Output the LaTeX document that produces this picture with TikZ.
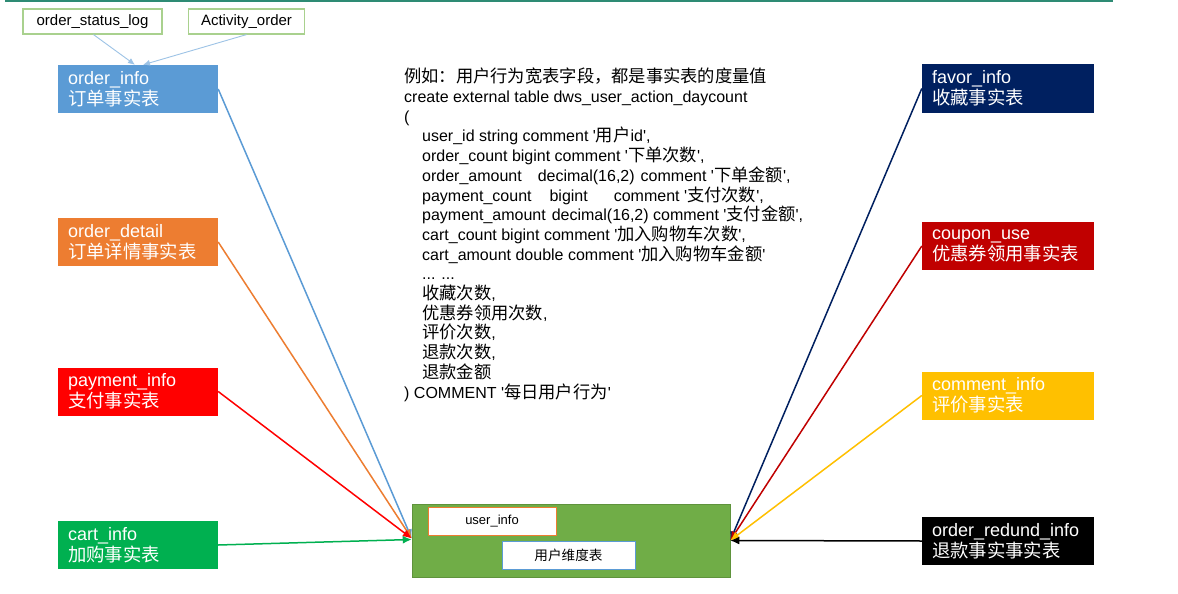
\documentclass[tikz,border=0pt]{standalone}
\usepackage{fontspec}
\newfontfamily\lsans{Liberation Sans}
\newfontfamily\cjk[Scale=1.08]{Noto Sans CJK SC}
\newfontfamily\cjkb[Scale=1.02]{Noto Sans CJK SC}
\usetikzlibrary{arrows.meta,calc}
\definecolor{cOI}{HTML}{5B9BD5}
\definecolor{cOD}{HTML}{ED7D31}
\definecolor{cPI}{HTML}{FF0000}
\definecolor{cCI}{HTML}{00B050}
\definecolor{cFI}{HTML}{002060}
\definecolor{cCU}{HTML}{C00000}
\definecolor{cCM}{HTML}{FFC000}
\definecolor{cRD}{HTML}{000000}
\definecolor{cGB}{HTML}{70AD47}
\definecolor{cTop}{HTML}{2E8B74}
\definecolor{cSrc}{HTML}{A9D18E}
\definecolor{cTA}{HTML}{9DC3E6}
\tikzset{
  fact/.style={inner xsep=10pt, inner ysep=0pt, minimum height=48pt, align=left,
    text=white, font=\lsans\fontsize{18}{21}\selectfont},
  lfact/.style={fact, text width=140pt},
  rfact/.style={fact, text width=152pt},
  srcbox/.style={draw=cSrc, line width=1.2pt, fill=white, inner sep=0pt,
    minimum height=25pt, font=\lsans\fontsize{15}{16}\selectfont},
  conn/.style={line width=1.5pt, -{Latex[length=9pt,width=8pt]}},
  tconn/.style={draw=cTA, line width=0.9pt, -{Latex[length=7pt,width=6pt]}},
  sub/.style={fill=white, inner sep=0pt, minimum height=28pt, line width=1pt}
}
\begin{document}
\begin{tikzpicture}[x=1pt,y=-1pt]
\useasboundingbox (0,0) rectangle (1178,594);
\fill[white] (0,0) rectangle (1178,594);
\draw[cTop, line width=2.5pt] (5,1) -- (1113,1);

% source boxes
\node[srcbox, minimum width=139pt] (osl) at (92.5,21.5) {order\_status\_log};
\node[srcbox, minimum width=116pt] (ao) at (246.5,21.5) {Activity\_order};

% left fact tables
\node[lfact, fill=cOI] (oi) at (138,89) {order\_info\\{\cjkb 订单事实表}};
\node[lfact, fill=cOD] (od) at (138,242) {order\_detail\\{\cjkb 订单详情事实表}};
\node[lfact, fill=cPI] (pi) at (138,391.5) {payment\_info\\{\cjkb 支付事实表}};
\node[lfact, fill=cCI] (ci) at (138,545) {cart\_info\\{\cjkb 加购事实表}};

% right fact tables
\node[rfact, fill=cFI] (fi) at (1008,88.5) {favor\_info\\{\cjkb 收藏事实表}};
\node[rfact, fill=cCU] (cu) at (1008,246) {coupon\_use\\{\cjkb 优惠券领用事实表}};
\node[rfact, fill=cCM] (cm) at (1008,395.5) {comment\_info\\{\cjkb 评价事实表}};
\node[rfact, fill=cRD] (rd) at (1008,541) {order\_redund\_info\\{\cjkb 退款事实事实表}};

% user dimension
\node[fill=cGB, draw=cGB!85!black, line width=0.5pt, inner sep=0pt,
  minimum width=318pt, minimum height=73pt] (gb) at (571,540.5) {};
\node[sub, draw=cOD, minimum width=128pt, font=\lsans\fontsize{13}{15}\selectfont] (ui) at (492,521) {user\_info};
\node[sub, draw=cOI, minimum width=133pt, font=\lsans\fontsize{12.6}{15}\selectfont] (ud) at (568.5,555.5) {{\cjk 用户维度表}};

% SQL text
\node[anchor=north west, align=left, inner sep=0pt, font=\lsans\fontsize{16}{19.7}\selectfont] (sql) at (404,68) {%
{\cjk 例如：用户行为宽表字段，都是事实表的度量值}\\
create external table dws\_user\_action\_daycount\\
(\\
\hspace*{18pt}user\_id string comment '{\cjk 用户}id',\\
\hspace*{18pt}order\_count bigint comment '{\cjk 下单次数}',\\
\hspace*{18pt}order\_amount\hspace{16pt}decimal(16,2)\hspace{6pt}comment '{\cjk 下单金额}',\\
\hspace*{18pt}payment\_count\hspace{18pt}bigint\hspace{26pt}comment '{\cjk 支付次数}',\\
\hspace*{18pt}payment\_amount\hspace{6pt}decimal(16,2) comment '{\cjk 支付金额}',\\
\hspace*{18pt}cart\_count bigint comment '{\cjk 加入购物车次数}',\\
\hspace*{18pt}cart\_amount double comment '{\cjk 加入购物车金额}'\\
\hspace*{18pt}... ...\\
\hspace*{18pt}{\cjk 收藏次数},\\
\hspace*{18pt}{\cjk 优惠券领用次数},\\
\hspace*{18pt}{\cjk 评价次数},\\
\hspace*{18pt}{\cjk 退款次数},\\
\hspace*{18pt}{\cjk 退款金额}\\
) COMMENT '{\cjk 每日用户行为}'};

% connectors
\draw[tconn] ($(osl.south)+(1,0)$) -- ($(oi.north)+(-3,0)$);
\draw[tconn] (ao.south) -- ($(oi.north)+(5,0)$);

\draw[conn, cOI] (oi.east) -- ($(gb.west)+(0,-2)$);
\draw[conn, cOD] (od.east) -- ($(gb.west)+(0,-2)$);
\draw[conn, cPI] (pi.east) -- ($(gb.west)+(0,-2)$);
\draw[conn, cCI] (ci.east) -- ($(gb.west)+(0,-1)$);

\draw[conn, cFI] (fi.west) -- (gb.east);
\draw[conn, cCU] (cu.west) -- (gb.east);
\draw[conn, cCM] (cm.west) -- (gb.east);
\draw[conn, cRD] (rd.west) -- (gb.east);
\end{tikzpicture}
\end{document}
